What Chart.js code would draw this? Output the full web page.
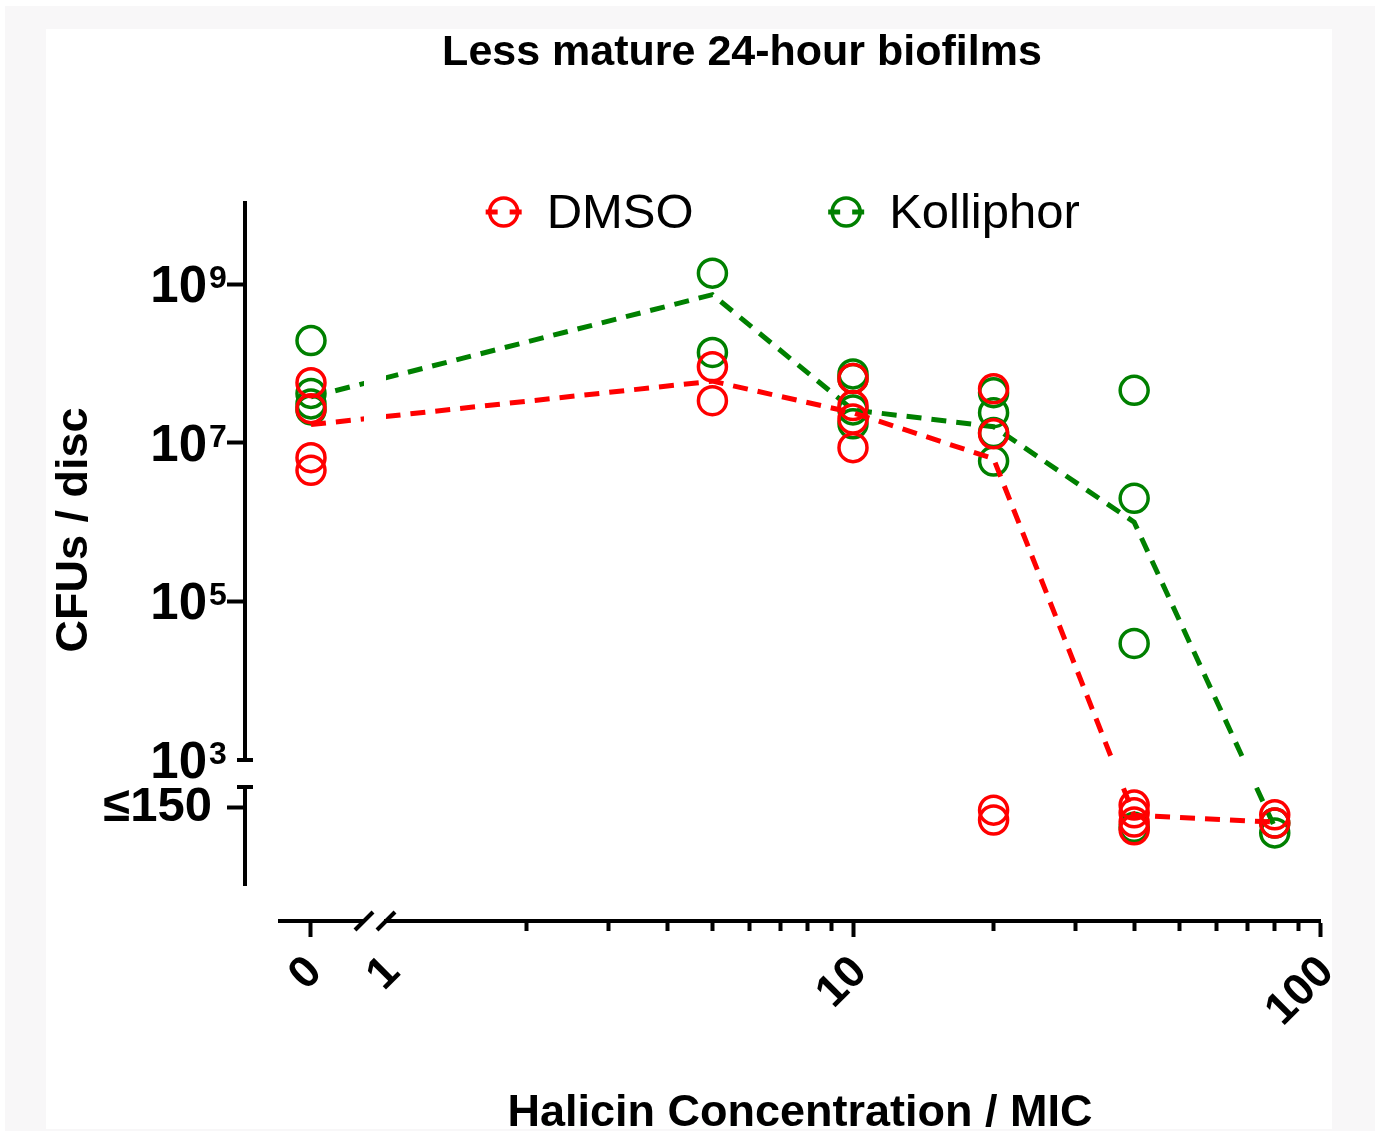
<!DOCTYPE html>
<html>
<head>
<meta charset="utf-8">
<title>Less mature 24-hour biofilms</title>
<script src="https://cdn.jsdelivr.net/npm/chart.js@4.4.1/dist/chart.umd.min.js"></script>
<style>
    html, body { margin: 0; padding: 0; background: #fff; }
    #frame { position: absolute; left: 5px; top: 6px; width: 1370px; height: 1125px; background: #f8f7f8; }
    #panel { position: absolute; left: 46px; top: 29px; width: 1286px; height: 1100px; background: #fff; }
    #panel canvas { display: block; }
</style>
</head>
<body>
<div id="frame"></div>
<div id="panel"><canvas id="biofilmChart"></canvas></div>
<script>
// Less mature 24-hour biofilms - CFUs per disc against halicin dose
const concentrations = [0, 5, 10, 20, 40, 80]; // x MIC

// one value per disc; anything under 10^3 is shown in the "≤150" band
const dmsoCfus = [
    [5.75e7, 2.7e7, 6.5e6, 4.5e6],
    [9.1e7, 3.4e7],
    [6.5e7, 2.95e7, 2.0e7, 8.7e6],
    [4.8e7, 1.3e7, 145, 126],
    [155, 140, 122, 107],
    [136, 120]
];
const kolliphorCfus = [
    [1.95e8, 4.2e7, 3.1e7, 2.6e7],
    [1.38e9, 1.38e8],
    [7.4e7, 6.5e7, 2.6e7, 1.74e7],
    [4.3e7, 2.4e7, 1.35e7, 5.9e6],
    [4.6e7, 2.0e6, 2.95e4, 112],
    [120, 101]
];

// medians, joined by the dashed lines
const dmsoMedian = [1.7e7, 6.0e7, 2.4e7, 6.3e6, 135, 122];
const kolliphorMedian = [3.8e7, 7.4e8, 2.6e7, 1.6e7, 1.0e6, 112];

const yTicks = [1e3, 1e5, 1e7, 1e9];
const lowTick = 150;
const xTickLabels = [0, 1, 10, 100];
const xMinorTicks = [2, 3, 4, 5, 6, 7, 8, 9, 20, 30, 40, 50, 60, 70, 80, 90];

const series = [
    { label: 'DMSO', color: '#ff0000', cfus: dmsoCfus, median: dmsoMedian },
    { label: 'Kolliphor', color: '#008000', cfus: kolliphorCfus, median: kolliphorMedian }
];

const LOG_MIN = yTicks[0];
const FONT = '"Liberation Sans", Arial, sans-serif';
const black = '#000';
const clear = 'rgba(0,0,0,0)';
const Y_AXIS_W = 150;
const X_AXIS_H = 120;

// split every series into datasets by the axis segment each point falls on
const datasets = [];
const firstDrawn = {};
series.forEach((s, si) => {
    const groups = {};
    concentrations.forEach((c, i) => {
        s.cfus[i].forEach(v => {
            const xId = c === 0 ? 'x0' : 'xLog';
            const yId = v < LOG_MIN ? 'yLow' : 'yLog';
            const key = xId + '|' + yId;
            if (!groups[key]) groups[key] = { xAxisID: xId, yAxisID: yId, data: [] };
            groups[key].data.push({ x: c, y: v });
        });
    });
    Object.values(groups).forEach(g => {
        datasets.push({
            label: s.label,
            series: si,
            xAxisID: g.xAxisID,
            yAxisID: g.yAxisID,
            data: g.data,
            showLine: false,
            clip: false,
            pointStyle: 'circle',
            pointRadius: 14,
            pointHoverRadius: 14,
            pointBorderWidth: 3.5,
            borderColor: s.color,
            backgroundColor: clear
        });
        firstDrawn[si] = datasets.length - 1; // chart.js paints the last index first
    });
});

const xLogTicks = xTickLabels.filter(v => v >= 1).concat(xMinorTicks).sort((a, b) => a - b);

// every box in a stack gets the same size, hidden spacer axes included
function fixWidth(w) {
    return s => { s.width = w; s.paddingTop = 0; s.paddingBottom = 0; };
}
function fixHeight(h) {
    return s => { s.height = h; s.paddingLeft = 0; s.paddingRight = 0; };
}
function spacer(axis, stack, weight) {
    return {
        type: 'linear', axis: axis, position: axis === 'x' ? 'bottom' : 'left',
        stack: stack, stackWeight: weight, display: false,
        afterFit: axis === 'x' ? fixHeight(X_AXIS_H) : fixWidth(Y_AXIS_W)
    };
}
const border = { display: true, color: black, width: 4 };
const xTickFont = { family: FONT, size: 45, weight: 'bold' };

function xScaleFor(chart, c) { return chart.scales[c === 0 ? 'x0' : 'xLog']; }
function yScaleFor(chart, v) { return chart.scales[v < LOG_MIN ? 'yLow' : 'yLog']; }

function drawMedian(chart, s) {
    const { ctx, chartArea: a, scales } = chart;
    const pts = concentrations.map((c, i) => [
        xScaleFor(chart, c).getPixelForValue(c),
        yScaleFor(chart, s.median[i]).getPixelForValue(s.median[i])
    ]);
    ctx.save();
    // leave the axis breaks empty
    ctx.beginPath();
    const xs = [[a.left - 30, scales.x0.right], [scales.xLog.left, a.right + 30]];
    const ys = [[a.top - 30, scales.yLog.bottom], [scales.yLow.top, a.bottom]];
    xs.forEach(([l, r]) => ys.forEach(([t, b]) => ctx.rect(l, t, r - l, b - t)));
    ctx.clip();
    ctx.strokeStyle = s.color;
    ctx.lineWidth = 5;
    ctx.setLineDash([15, 10]);
    ctx.beginPath();
    pts.forEach(([x, y], i) => (i ? ctx.lineTo(x, y) : ctx.moveTo(x, y)));
    ctx.stroke();
    ctx.restore();
}

function line(ctx, x1, y1, x2, y2) {
    ctx.beginPath();
    ctx.moveTo(x1, y1);
    ctx.lineTo(x2, y2);
    ctx.stroke();
}

const prismDecor = {
    id: 'prismDecor',
    beforeDatasetDraw(chart, args) {
        const ds = chart.data.datasets[args.index];
        if (firstDrawn[ds.series] === args.index) drawMedian(chart, series[ds.series]);
    },
    afterDraw(chart) {
        const { ctx, chartArea: a, scales } = chart;
        ctx.save();
        ctx.fillStyle = black;
        ctx.strokeStyle = black;

        // 10^n labels
        const yLog = scales.yLog;
        yTicks.forEach(v => {
            const y = yLog.getPixelForValue(v);
            const x = yLog.right - 38;
            ctx.font = 'bold 51px ' + FONT;
            ctx.textAlign = 'right';
            ctx.textBaseline = 'alphabetic';
            ctx.fillText('10', x, y + 18);
            ctx.font = 'bold 32px ' + FONT;
            ctx.textAlign = 'left';
            ctx.fillText(String(Math.round(Math.log10(v))), x + 2, y + 4);
        });

        // break caps on the y axis, slashes on the x axis
        ctx.lineWidth = 4;
        [scales.yLog.bottom, scales.yLow.top].forEach(y => line(ctx, a.left - 8, y, a.left + 8, y));
        [scales.x0.right, scales.xLog.left].forEach(x => line(ctx, x - 9, a.bottom + 9, x + 9, a.bottom - 9));

        // legend
        ctx.font = '49px ' + FONT;
        const boxW = 37, half = 24.5, gap = 134;
        const widths = series.map(s => boxW + half + ctx.measureText(s.label).width);
        const total = widths.reduce((p, w) => p + w, 0) + gap * (series.length - 1);
        let lx = (a.left + a.right) / 2 - total / 2;
        const cy = a.top + 9;
        series.forEach((s, i) => {
            const cx = lx + boxW / 2;
            ctx.strokeStyle = s.color;
            ctx.lineWidth = 3.5;
            ctx.beginPath();
            ctx.arc(cx, cy, 14, 0, Math.PI * 2);
            ctx.stroke();
            ctx.lineWidth = 5;
            line(ctx, cx - 18, cy, cx - 6, cy);
            line(ctx, cx + 6, cy, cx + 18, cy);
            ctx.fillStyle = black;
            ctx.textAlign = 'left';
            ctx.textBaseline = 'alphabetic';
            ctx.fillText(s.label, lx + boxW + half, cy + 16);
            lx += widths[i] + gap;
        });

        // titles
        ctx.fillStyle = black;
        ctx.textAlign = 'center';
        ctx.textBaseline = 'alphabetic';
        ctx.font = 'bold 43px ' + FONT;
        ctx.fillText('Less mature 24-hour biofilms', 696, 36);
        ctx.font = 'bold 45px ' + FONT;
        ctx.fillText('Halicin Concentration / MIC', 754, 1097);
        ctx.translate(41, 501);
        ctx.rotate(-Math.PI / 2);
        ctx.fillText('CFUs / disc', 0, 0);
        ctx.restore();
    }
};

new Chart(document.getElementById('biofilmChart'), {
    type: 'scatter',
    data: { datasets: datasets },
    options: {
        responsive: true,
        maintainAspectRatio: false,
        animation: false,
        events: [],
        layout: {
            autoPadding: false,
            padding: { left: 199 - Y_AXIS_W, top: 174, right: 12, bottom: 1100 - 892 - X_AXIS_H }
        },
        plugins: {
            legend: { display: false },
            title: { display: false },
            tooltip: { enabled: false }
        },
        scales: {
            xGapA: spacer('x', 'xs', 35),
            x0: {
                type: 'linear', axis: 'x', position: 'bottom', stack: 'xs', stackWeight: 84,
                min: -1, max: 1.71,
                afterBuildTicks: s => { s.ticks = xTickLabels.filter(v => v < 1).map(v => ({ value: v })); },
                afterFit: fixHeight(X_AXIS_H),
                border: border,
                grid: { drawOnChartArea: false, tickLength: 16, tickWidth: 4, tickColor: black },
                ticks: { autoSkip: false, minRotation: 45, maxRotation: 45, padding: 9, labelOffset: 4,
                    color: black, font: xTickFont, callback: v => String(v) }
            },
            xGapB: spacer('x', 'xs', 22),
            xLog: {
                type: 'logarithmic', axis: 'x', position: 'bottom', stack: 'xs', stackWeight: 934,
                min: 1, max: 100,
                afterBuildTicks: s => { s.ticks = xLogTicks.map(v => ({ value: v })); },
                afterFit: fixHeight(X_AXIS_H),
                border: border,
                grid: {
                    drawOnChartArea: false, tickLength: 16, tickWidth: 4,
                    tickColor: c => (c.tick && c.tick.value === 1 ? clear : black),
                    tickBorderDash: c => (c.tick && xMinorTicks.includes(c.tick.value) ? [8, 60] : [])
                },
                ticks: { autoSkip: false, minRotation: 45, maxRotation: 45, padding: 9, labelOffset: 7,
                    color: black, font: xTickFont,
                    callback: v => (xTickLabels.includes(v) ? String(v) : '') }
            },
            // left boxes are laid out in reverse order, so the bottom segment comes first
            yGapB: spacer('y', 'ys', 36),
            yLow: {
                type: 'linear', axis: 'y', position: 'left', stack: 'ys', stackWeight: 98,
                min: 0, max: 190,
                afterBuildTicks: s => { s.ticks = [{ value: lowTick }]; },
                afterFit: fixWidth(Y_AXIS_W),
                border: border,
                grid: { drawOnChartArea: false, tickLength: 18, tickWidth: 4, tickColor: black },
                ticks: { padding: 15, color: black, font: { family: FONT, size: 49, weight: 'bold' },
                    callback: v => '≤' + v }
            },
            yGapA: spacer('y', 'ys', 27),
            yLog: {
                type: 'logarithmic', axis: 'y', position: 'left', stack: 'ys', stackWeight: 557,
                min: 1e3, max: 1.06e10,
                afterBuildTicks: s => { s.ticks = yTicks.map(v => ({ value: v })); },
                afterFit: fixWidth(Y_AXIS_W),
                border: border,
                grid: {
                    drawOnChartArea: false, tickLength: 18, tickWidth: 4,
                    tickColor: c => (c.tick && c.tick.value === LOG_MIN ? clear : black)
                },
                ticks: { display: false }
            }
        }
    },
    plugins: [prismDecor]
});
</script>
</body>
</html>
